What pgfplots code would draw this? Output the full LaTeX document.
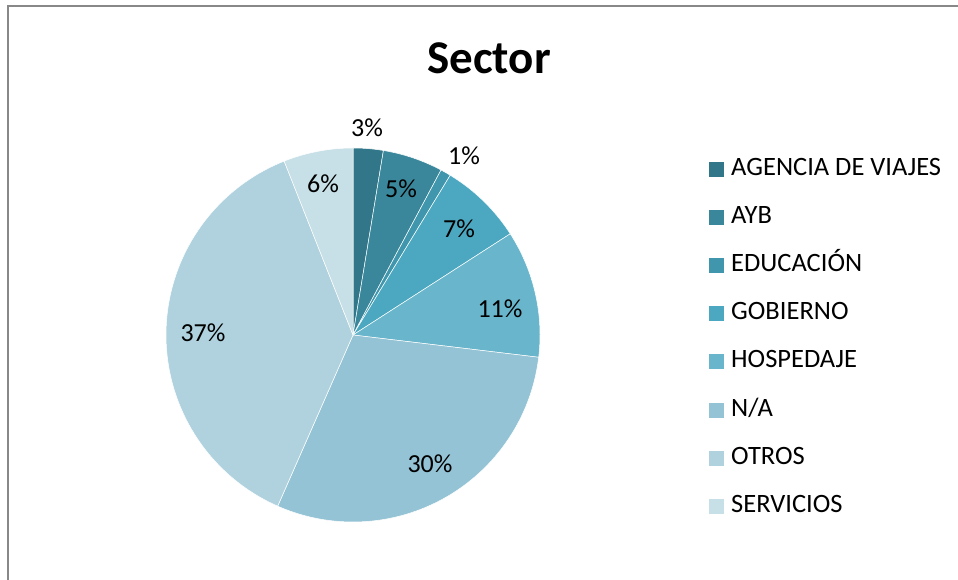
\documentclass[border=0pt]{standalone}
\usepackage{pgfplots}
\usepackage{pgfplotstable}
\pgfplotsset{compat=1.18}
\usepackage{fontspec}
\setmainfont{Carlito}
\definecolor{pie0}{HTML}{317789}
\definecolor{pie1}{HTML}{3A879B}
\definecolor{pie2}{HTML}{4096AC}
\definecolor{pie3}{HTML}{4BA8C0}
\definecolor{pie4}{HTML}{68B5CC}
\definecolor{pie5}{HTML}{93C3D4}
\definecolor{pie6}{HTML}{AFD2DE}
\definecolor{pie7}{HTML}{C7DFE6}
\definecolor{frame}{HTML}{888888}
\pgfplotstableread{
label value
{AGENCIA DE VIAJES} 2.6
AYB 5.2
EDUCACIÓN 0.9
GOBIERNO 7.2
HOSPEDAJE 11.0
N/A 29.7
OTROS 37.4
SERVICIOS 6.0
}\sectordata
\pgfplotstableread{
x y text
367 452 3\%
401 391 5\%
464 424 1\%
459 351 7\%
500 271 11\%
430 116 30\%
203 247 37\%
323 396 6\%
}\labeldata
\begin{document}
\begin{tikzpicture}
\begin{axis}[
  width=958pt, height=580pt, scale only axis,
  xmin=0, xmax=958, ymin=0, ymax=580,
  hide axis, clip=false,
  legend style={at={(axis cs:706,425)}, anchor=north west, draw=none, fill=none,
    font=\fontsize{26.5}{31}\selectfont, row sep=24.2pt, column sep=7pt,
    nodes={inner sep=0pt, text height=18pt, text depth=6pt}},
  legend cell align=left,
  legend image code/.code={\fill[#1,draw=none] (0pt,-7.5pt) rectangle (15pt,7.5pt);},
]
\coordinate (ll) at (axis cs:0,0);
\coordinate (ur) at (axis cs:958,580);
\def\cum{0}
\pgfplotsforeachungrouped \i in {0,...,7}{
  \pgfplotstablegetelem{\i}{value}\of\sectordata
  \let\val\pgfplotsretval
  \pgfmathsetmacro\a{\cum*3.6}
  \pgfmathsetmacro\b{(\cum+\val)*3.6}
  \pgfmathsetmacro\newcum{\cum+\val}
  \global\let\cum\newcum
  \pgfplotstablegetelem{\i}{label}\of\sectordata
  \let\lab\pgfplotsretval
  \edef\temp{\noexpand\addplot[fill=pie\i, draw=white, line width=0.5pt, domain=\a:\b, samples=80, variable=\noexpand\t] ({353+187*sin(\noexpand\t)},{245+187*cos(\noexpand\t)}) -- (axis cs:353,245) -- cycle; \noexpand\addlegendentry{\lab}}
  \temp
}
\addplot[only marks, mark=none, nodes near coords, point meta=explicit symbolic,
  every node near coord/.append style={anchor=center, font=\fontsize{26}{30}\selectfont, text=black}]
  table[x=x, y=y, meta=text] {\labeldata};
\node[font=\fontsize{47}{56}\selectfont\bfseries] at (axis cs:489,522) {Sector};
\draw[frame, line width=2pt] (axis cs:8,0) -- (axis cs:8,574) -- (axis cs:958,574);
\end{axis}
\pgfresetboundingbox
\path (ll) rectangle (ur);
\end{tikzpicture}
\end{document}
